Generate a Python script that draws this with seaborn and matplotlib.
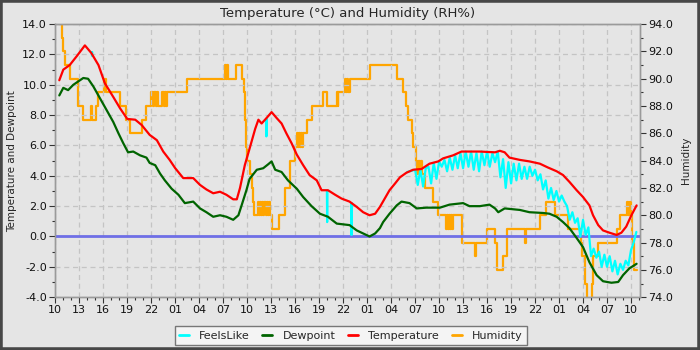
import numpy as np
import pandas as pd
import matplotlib
matplotlib.use("Agg")
import matplotlib.pyplot as plt
from matplotlib.ticker import MultipleLocator, FixedLocator, FuncFormatter
import seaborn as sns

# Hours since 10:00 on the first day
temp_hours = [0.5, 1.0, 1.8, 2.7, 3.7, 4.5, 5.4, 6.2, 7.25, 8.1, 9.0, 10.0, 10.8, 11.8,
              12.7, 13.5, 14.3, 15.0, 16.0, 17.25, 18.1, 18.9, 19.75, 20.6, 21.4, 22.25,
              22.7, 23.1, 23.7, 24.3, 25.0, 25.4, 25.8, 26.4, 27.05, 27.7, 28.3, 28.9,
              29.55, 30.2, 31.0, 31.8, 32.7, 33.3, 34.1, 35.0, 35.8, 36.8, 37.7, 38.5,
              39.3, 40.0, 40.6, 41.2, 41.8, 42.5, 43.1, 43.9, 44.75, 45.8, 46.8, 47.9,
              48.5, 49.75, 50.8, 53.1, 55.0, 55.6, 56.2, 56.8, 58.1, 59.3, 60.6, 61.6,
              62.7, 63.5, 64.3, 65.2, 66.0, 66.8, 67.25, 67.9, 68.5, 69.3, 70.2, 70.8,
              71.4, 72.05, 72.7]
temperature = [10.3, 11.0, 11.3, 11.9, 12.6, 12.1, 11.3, 10.1, 9.2, 8.45, 7.75, 7.7, 7.35, 6.7,
               6.35, 5.6, 5.05, 4.5, 3.85, 3.85, 3.4, 3.1, 2.85, 2.95, 2.75, 2.45,
               2.45, 3.2, 4.7, 5.8, 7.1, 7.7, 7.45, 7.8, 8.2, 7.8, 7.45, 6.8,
               6.15, 5.4, 4.7, 4.05, 3.7, 3.05, 3.05, 2.75, 2.5, 2.3, 1.95, 1.6,
               1.4, 1.5, 1.95, 2.5, 3.05, 3.5, 3.9, 4.2, 4.4, 4.45, 4.8, 4.95,
               5.15, 5.35, 5.6, 5.6, 5.55, 5.65, 5.55, 5.2, 5.05, 4.95, 4.8, 4.55,
               4.3, 4.05, 3.6, 3.05, 2.6, 2.05, 1.4, 0.75, 0.4, 0.25, 0.1, 0.25,
               0.65, 1.4, 2.05]

dew_hours = [0.5, 1.0, 1.6, 2.25, 3.5, 4.1, 4.75, 5.6, 6.4, 7.25, 7.9, 8.5, 9.1, 9.75,
             10.6, 11.4, 11.8, 12.5, 13.1, 13.7, 14.55, 15.4, 16.2, 17.25, 18.1, 18.9,
             19.75, 20.6, 21.4, 22.25, 22.9, 23.3, 23.9, 24.3, 25.2, 26.0, 26.6, 27.05,
             27.5, 28.3, 29.1, 30.2, 31.0, 32.05, 33.1, 34.1, 35.2, 36.0, 36.8, 37.7,
             38.7, 39.3, 40.0, 40.6, 41.0, 41.8, 42.7, 43.3, 44.3, 45.2, 46.4, 48.1,
             49.3, 51.0, 51.8, 53.1, 54.3, 55.0, 55.4, 56.2, 58.1, 59.3, 61.0, 61.8,
             62.7, 63.5, 64.3, 65.2, 66.0, 66.8, 67.7, 68.5, 69.55, 70.4, 71.0, 71.8,
             72.7]
dewpoint = [9.3, 9.8, 9.65, 10.0, 10.45, 10.4, 9.9, 9.1, 8.35, 7.55, 6.8, 6.15, 5.55, 5.6,
            5.35, 5.2, 4.85, 4.7, 4.15, 3.7, 3.15, 2.75, 2.2, 2.3, 1.85, 1.6,
            1.3, 1.4, 1.3, 1.1, 1.4, 2.05, 3.05, 3.8, 4.4, 4.5, 4.75, 4.95,
            4.4, 4.25, 3.7, 3.15, 2.6, 2.0, 1.5, 1.3, 0.85, 0.8, 0.75, 0.4,
            0.15, 0.0, 0.2, 0.55, 0.95, 1.5, 2.05, 2.3, 2.2, 1.85, 1.9, 1.9,
            2.1, 2.2, 2.0, 2.0, 2.1, 1.85, 1.6, 1.85, 1.75, 1.6, 1.55, 1.5,
            1.3, 0.95, 0.55, -0.1, -0.7, -1.7, -2.55, -2.95, -3.05, -3.0, -2.55, -2.1,
            -1.8]

# Feels-like readings where they fall below the air temperature
feels_hours = [4.58, 4.6, 4.62, 26.37, 26.4, 26.43, 33.97, 34.0, 34.03, 37.02, 37.05, 37.08,
               44.0, 44.33, 44.67, 45.0, 45.33, 45.67, 46.0, 46.33, 46.67, 47.0, 47.33, 47.67,
               48.0, 48.33, 48.67, 49.0, 49.33, 49.67, 50.0, 50.33, 50.67, 51.0, 51.33, 51.67,
               52.0, 52.33, 52.67, 53.0, 53.33, 53.67, 54.0, 54.33, 54.67, 55.0, 55.33, 55.67,
               56.0, 56.33, 56.67, 57.0, 57.33, 57.67, 58.0, 58.33, 58.67, 59.0, 59.33, 59.67,
               60.0, 60.33, 60.67, 61.0, 61.33, 61.67, 62.0, 62.33, 62.67, 63.0, 63.33, 63.67,
               64.0, 64.33, 64.67, 65.0, 65.33, 65.67, 66.0, 66.33, 66.67, 67.0, 67.33, 67.67,
               68.0, 68.33, 68.67, 69.0, 69.33, 69.67, 70.0, 70.33, 70.67, 71.0, 71.33, 71.67,
               72.0, 72.33, 72.67]
feels_like = [12.15, 11.9, 12.15, 7.75, 6.6, 7.75, 3.0, 0.95, 3.0, 2.2, 0.1, 2.2,
              4.25, 4.3, 4.35, 4.4, 3.4, 4.4, 3.3, 4.5, 4.6, 3.5, 4.85, 3.8,
              4.95, 4.6, 5.05, 4.3, 5.2, 4.4, 5.35, 4.5, 5.5, 4.5, 5.6, 4.6,
              5.6, 4.4, 5.5, 4.3, 5.6, 4.7, 5.6, 4.6, 5.5, 4.9, 5.6, 3.9,
              5.1, 3.2, 4.9, 3.5, 4.8, 3.7, 4.8, 3.8, 4.6, 3.8, 4.6, 4.0,
              4.4, 3.7, 4.1, 3.1, 3.7, 2.5, 3.2, 2.4, 3.0, 2.3, 2.7, 2.3,
              2.0, 1.1, 1.6, 0.9, 1.2, 0.0, 1.1, 0.1, 0.6, -1.3, -0.8, -1.4,
              -1.0, -2.0, -1.2, -2.0, -1.3, -2.3, -1.6, -2.5, -1.8, -2.2, -1.6, -1.9,
              -0.9, -0.4, 0.3]
feels_segment = [0] * 3 + [1] * 3 + [2] * 3 + [3] * 3 + [4] * 87

hum_hours = [0.5, 0.8, 1.0, 1.2, 1.85, 2.9, 3.5, 4.45, 4.6, 5.1, 5.4, 6.05, 6.3, 8.1, 8.9,
             9.35, 10.8, 11.3, 12.0, 12.2, 12.35, 12.55, 12.7, 12.9, 13.4, 13.55, 13.7,
             13.85, 13.95, 16.5, 21.2, 21.35, 21.45, 21.6, 22.65, 23.3, 23.55, 23.7, 23.85,
             24.0, 24.4, 24.55, 24.7, 24.85, 25.35, 25.5, 25.6, 25.75, 25.85, 26.0, 26.1,
             26.3, 26.45, 26.6, 26.75, 26.9, 27.05, 28.0, 28.7, 29.35, 30.0, 30.2, 30.3,
             30.45, 30.55, 30.7, 30.8, 31.0, 31.5, 32.05, 33.5, 34.0, 35.2, 35.3, 35.4,
             36.2, 36.35, 36.5, 36.6, 36.8, 39.3, 42.75, 43.5, 43.9, 44.1, 44.6, 44.75,
             45.1, 45.25, 45.4, 45.55, 45.7, 45.8, 46.2, 47.25, 47.9, 48.9, 49.05, 49.15,
             49.3, 49.4, 49.55, 49.65, 49.8, 50.9, 52.45, 52.6, 54.0, 55.0, 55.2, 56.0,
             56.5, 58.75, 58.85, 60.6, 61.4, 62.5, 64.1, 65.7, 65.9, 66.3, 66.45, 67.1,
             67.25, 67.9, 70.25, 70.6, 71.5, 71.6, 71.7, 71.8, 71.9, 72.0, 72.1, 72.35,
             72.7]
humidity = [94, 93, 92, 91, 90, 88, 87, 88, 87, 88, 89, 90, 89, 88, 87,
            86, 87, 88, 89, 88, 89, 88, 89, 88, 89, 88, 89,
            88, 89, 90, 91, 90, 91, 90, 91, 90, 89, 87, 85,
            84, 83, 82, 81, 80, 81, 80, 81, 80, 81, 80, 81,
            80, 81, 80, 81, 80, 79, 80, 82, 84, 85, 86, 85,
            86, 85, 86, 85, 86, 87, 88, 89, 88, 89, 88, 89,
            90, 89, 90, 89, 90, 91, 90, 89, 88, 87, 86, 85,
            84, 83, 84, 83, 84, 83, 82, 81, 80, 79, 80, 79,
            80, 79, 80, 79, 80, 78, 77, 78, 79, 78, 76, 77,
            79, 78, 79, 80, 81, 80, 79, 78, 77, 75, 73.5, 75,
            77, 78, 79, 80, 81, 80, 81, 80, 81, 80, 78, 76,
            76]

hour_labels = ["10", "13", "16", "19", "22", "01", "04", "07", "10", "13", "16", "19", "22",
               "01", "04", "07", "10", "13", "16", "19", "22", "01", "04", "07", "10"]

temp_df = pd.DataFrame({"hour": temp_hours, "value": temperature})
dew_df = pd.DataFrame({"hour": dew_hours, "value": dewpoint})
feels_df = pd.DataFrame({"hour": feels_hours, "value": feels_like, "seg": feels_segment})
hum_df = pd.DataFrame({"hour": hum_hours, "value": humidity})

BG = "#e5e5e5"
sns.set_theme(style="whitegrid", rc={
    "axes.facecolor": BG,
    "figure.facecolor": BG,
    "axes.edgecolor": "#9a9a9a",
    "axes.linewidth": 1.0,
    "grid.color": "#c4c4c4",
    "grid.linestyle": (0, (4, 3)),
    "grid.linewidth": 0.9,
    "xtick.bottom": True,
    "ytick.left": True,
    "xtick.color": "#333333",
    "ytick.color": "#333333",
})
plt.rcParams["font.family"] = ["DejaVu Sans"]

fig = plt.figure(figsize=(7, 3.5), dpi=100)
ax = fig.add_axes([0.079, 0.151, 0.835, 0.780])
ax2 = ax.twinx()
# humidity sits underneath the temperature traces
ax.set_zorder(ax2.get_zorder() + 1)
ax.patch.set_visible(False)
ax2.patch.set_visible(True)
ax2.patch.set_facecolor(BG)

C_FEELS, C_DEW, C_TEMP, C_HUM = "#00ffff", "#006400", "#ff0000", "#ffa500"
LW = 1.6

sns.lineplot(data=feels_df, x="hour", y="value", units="seg", estimator=None,
             color=C_FEELS, lw=LW, ax=ax, legend=False)
sns.lineplot(data=dew_df, x="hour", y="value", color=C_DEW, lw=LW, ax=ax)
sns.lineplot(data=temp_df, x="hour", y="value", color=C_TEMP, lw=LW, ax=ax)
ax.axhline(0, color="#6f6fe6", lw=2.0, zorder=1.5)
sns.lineplot(data=hum_df, x="hour", y="value", color=C_HUM, lw=LW,
             drawstyle="steps-post", ax=ax2)

ax.set_xlim(0, 73.1)
ax.set_ylim(-4, 14)
ax2.set_ylim(74, 94)

ax.xaxis.set_major_locator(FixedLocator(np.arange(0, 73, 3)))
ax.set_xticklabels(hour_labels)
ax.xaxis.set_minor_locator(MultipleLocator(1))
ax.yaxis.set_major_locator(MultipleLocator(2))
ax.yaxis.set_minor_locator(MultipleLocator(1))
ax.yaxis.set_major_formatter(FuncFormatter(lambda v, p: f"{v:.1f}"))
ax2.yaxis.set_major_locator(MultipleLocator(2))
ax2.yaxis.set_minor_locator(MultipleLocator(1))
ax2.yaxis.set_major_formatter(FuncFormatter(lambda v, p: f"{v:.1f}"))

for a in (ax, ax2):
    a.tick_params(which="major", length=4, width=0.8, labelsize=8, pad=2, colors="#333333")
    a.tick_params(which="minor", length=2.5, width=0.8, colors="#333333")
    a.tick_params(axis="y", labelcolor="#111111")
    a.tick_params(axis="x", labelcolor="#111111")
ax2.grid(False)
ax.grid(True, which="major")

ax.set_xlabel("")
ax.set_ylabel("Temperature and Dewpoint", fontsize=7.5, labelpad=4)
ax2.set_ylabel("Humidity", fontsize=7.5, labelpad=6)
ax.set_title("Temperature (°C) and Humidity (RH%)", fontsize=9.5, pad=5)

handles = [plt.Line2D([], [], color=c, lw=2) for c in (C_FEELS, C_DEW, C_TEMP, C_HUM)]
leg = fig.legend(handles, ["FeelsLike", "Dewpoint", "Temperature", "Humidity"],
                 loc="center", bbox_to_anchor=(0.501, 0.041), ncol=4, fontsize=8,
                 frameon=True, fancybox=False, handlelength=0.9, columnspacing=1.15,
                 handletextpad=0.9, borderpad=0.4)
leg.get_frame().set_facecolor("#f4f4f4")
leg.get_frame().set_edgecolor("#777777")
leg.get_frame().set_linewidth(1.0)
leg.get_frame().set_alpha(1)

fig.patches.append(plt.Rectangle((0, 0), 1, 1, transform=fig.transFigure, fill=False,
                                 edgecolor="#474747", lw=4, zorder=10))

fig.savefig("out.png", dpi=100, facecolor=BG)
